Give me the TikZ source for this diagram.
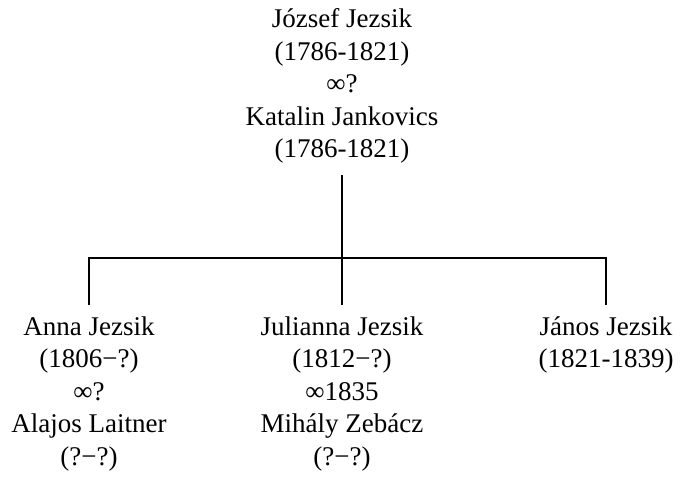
\documentclass[tikz,border=0pt]{standalone}
\usepackage{fontspec}
\setmainfont{Liberation Serif}
\begin{document}
\begin{tikzpicture}[x=1pt,y=-1pt,
  person/.style={align=center,inner sep=0pt,font=\fontsize{27}{32.5}\selectfont},
  link/.style={line width=1.8pt}]
\useasboundingbox (0,0) rectangle (680,479);
\node[person] (top) at (342,86) {József Jezsik\\(1786-1821)\\∞?\\Katalin Jankovics\\(1786-1821)};
\node[person] (anna) at (89,394) {Anna Jezsik\\(1806−?)\\∞?\\Alajos Laitner\\(?−?)};
\node[person] (juli) at (342,394) {Julianna Jezsik\\(1812−?)\\∞1835\\Mihály Zebácz\\(?−?)};
\node[person] (janos) at (606,345) {János Jezsik\\(1821-1839)};
\coordinate (topend) at (342,175);
\coordinate (bar) at (342,258);
\coordinate (barL) at (89,258);
\coordinate (barR) at (606,258);
\coordinate (annaT) at (89,305);
\coordinate (juliT) at (342,305);
\coordinate (janosT) at (606,305);
\draw[link] (topend) -- (bar);
\draw[link] (annaT) -- (barL) -- (barR) -- (janosT);
\draw[link] (bar) -- (juliT);
\end{tikzpicture}
\end{document}
